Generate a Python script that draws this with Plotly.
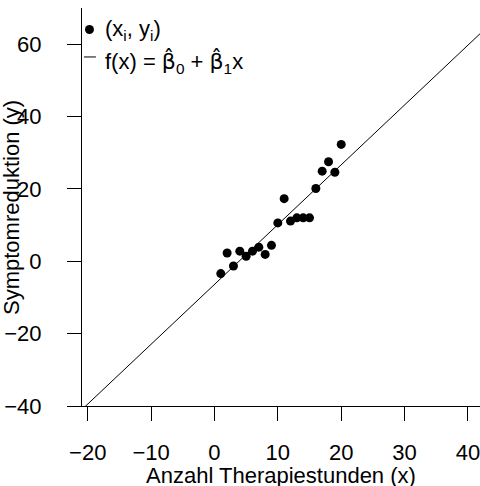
import numpy as np
import plotly.graph_objects as go

# Data
x_vals = [1, 2, 3, 4, 5, 6, 7, 8, 9, 10, 11, 12, 13, 14, 15, 16, 17, 18, 19, 20]
y_vals = [-3.4, 2.3, -1.3, 2.8, 1.4, 2.8, 3.9, 1.9, 4.4, 10.6,
          17.3, 11.1, 12.0, 12.0, 12.0, 20.1, 24.9, 27.5, 24.6, 32.3]
x_ticks = [-20, -10, 0, 10, 20, 30, 40]
y_ticks = [-40, -20, 0, 20, 40, 60]
x_range = [-20.9, 41.9]
y_range = [-40, 70]

# Least-squares fit
b1, b0 = np.polyfit(x_vals, y_vals, 1)
x_line = np.array(x_range)
y_line = b0 + b1 * x_line

FONT = "Liberation Sans, Arial, sans-serif"
FS = 22

fig = go.Figure()
fig.add_trace(go.Scatter(x=x_line, y=y_line, mode="lines",
                         line=dict(color="black", width=1), showlegend=False,
                         hoverinfo="skip"))
fig.add_trace(go.Scatter(x=x_vals, y=y_vals, mode="markers",
                         marker=dict(color="black", size=9, line=dict(width=0)),
                         showlegend=False, cliponaxis=False))

axis_common = dict(showline=True, linecolor="black", linewidth=1,
                   ticks="outside", ticklen=14, tickwidth=1, tickcolor="black",
                   showgrid=False, zeroline=False, mirror=False, automargin=False,
                   ticklabeloverflow="allow",
                   tickfont=dict(family=FONT, size=FS, color="black"))

fig.update_xaxes(range=x_range, tickvals=x_ticks, ticklabelstandoff=13,
                 **axis_common)
fig.update_yaxes(range=y_range, tickvals=y_ticks, ticklabelstandoff=21,
                 **axis_common)

# Axis titles
fig.add_annotation(xref="paper", yref="paper", x=0.5, y=-0.1744,
                   xanchor="center", yanchor="middle", showarrow=False,
                   text="Anzahl Therapiestunden (x)",
                   font=dict(family=FONT, size=FS, color="black"))
fig.add_annotation(xref="paper", yref="paper", x=-0.1784, y=0.5,
                   xanchor="center", yanchor="middle", showarrow=False,
                   textangle=-90, text="Symptomreduktion (y)",
                   font=dict(family=FONT, size=FS, color="black"))

# Custom legend
fig.add_shape(type="circle", xref="paper", yref="paper",
              x0=0.0075, x1=0.030, y0=0.9348, y1=0.9573,
              fillcolor="black", line=dict(width=0))
fig.add_shape(type="line", xref="paper", yref="paper",
              x0=0.005, x1=0.035, y0=0.877, y1=0.877,
              line=dict(color="black", width=1))
fig.add_annotation(xref="paper", yref="paper", x=0.0528, y=0.945,
                   xanchor="left", yanchor="middle", showarrow=False,
                   text="(x<sub>i</sub>, y<sub>i</sub>)",
                   font=dict(family=FONT, size=FS, color="black"))
BH = "<span style='font-family:DejaVu Sans'>\u03b2\u0302</span>"
fig.add_annotation(xref="paper", yref="paper", x=0.0528, y=0.864,
                   xanchor="left", yanchor="middle", showarrow=False,
                   text="f(x) = " + BH + "<sub>0</sub> + " + BH + "<sub>1</sub>x",
                   font=dict(family=FONT, size=FS, color="black"))

fig.update_layout(width=480, height=486,
                  margin=dict(l=82, r=0, t=8, b=79.5),
                  plot_bgcolor="white", paper_bgcolor="white",
                  font=dict(family=FONT, size=FS, color="black"))

# Remove the browser's default 8px body margin so the figure fills the window.
fig.write_html("out.html",
               config={"displayModeBar": False},
               post_script="document.body.style.margin='0';"
                           "document.body.style.overflow='hidden';")
